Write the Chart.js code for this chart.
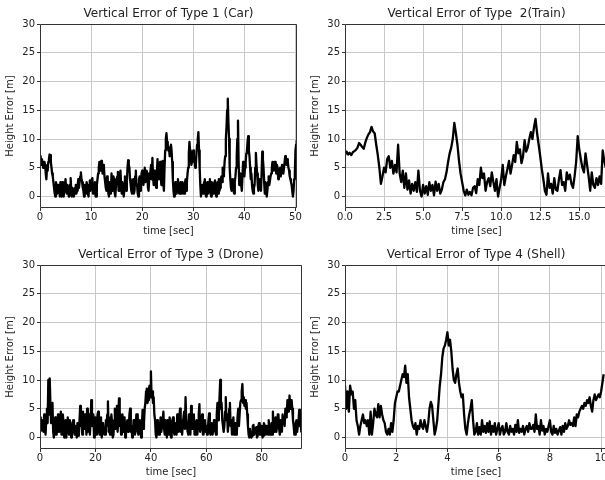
<!DOCTYPE html>
<html>
<head>
<meta charset="utf-8">
<script src="https://cdn.jsdelivr.net/npm/chart.js@4.4.0/dist/chart.umd.min.js"></script>
<style>
  html, body { margin: 0; padding: 0; background: #fff; overflow: hidden; width: 605px; height: 480px; }
  .panel { position: absolute; }
</style>
</head>
<body>
<div class="panel" style="left:0;top:0"><canvas id="car" width="305" height="240"></canvas></div>
<div class="panel" style="left:305px;top:0"><canvas id="train" width="320" height="240"></canvas></div>
<div class="panel" style="left:0;top:241px"><canvas id="drone" width="305" height="240"></canvas></div>
<div class="panel" style="left:305px;top:241px"><canvas id="shell" width="320" height="240"></canvas></div>
<script>
const carStep = 0.125;
const carErr = [
  7, 6, 5.5, 6.5, 6, 5, 5.2, 6,          5.5, 4, 3, 5, 4.5, 6, 6.5, 7.3,
  7.2, 6, 5, 4, 3.5, 2.5, 1.5, 0.5,      0, 2.5, 2, 0.5, 0.5, 2, 1.5, 0,
  2.5, 1, 0, 2.5, 2, 0, 1, 2,            3, 1, 0.5, 2, 1.5, 0, 0, 2,
  3.2, 1, 0, 1.5, 1, 0, 0.5, 1.5,        2, 0.5, 1, 2, 3, 1.5, 2.5, 3.5,
  4.2, 3, 2.5, 1.5, 1, 0, 2, 1,          0.5, 2.5, 2, 0.5, 0, 2, 2.8, 1,
  1.5, 3, 3.2, 0.5, 1, 2, 2.5, 0,        0, 2, 3, 4, 5, 6, 5.5, 4.5,
  6.2, 5, 4, 5.5, 5.2, 3.5, 2.5, 1.5,    1, 3.5, 3, 0.5, 0, 2.5, 2.5, 0.5,
  4, 2, 1, 3.5, 3, 0.5, 0, 2,            2, 3.5, 4.3, 1, 1, 3.5, 4.5, 2,
  0.5, 2.5, 2, 0, 1, 3.5, 3, 1,          2.5, 5, 6.3, 5.5, 5, 3, 2, 1,
  0.5, 2.5, 3, 0.5, 1, 3.5, 4.5, 2,      2, 0.5, 0, 3, 3.5, 1, 1.5, 4,
  4.5, 2.5, 2, 4, 5, 2.5, 3, 4.5,        4, 1.5, 1, 3, 3.5, 4.5, 5.5, 3,
  6.7, 3.5, 2, 4.5, 4, 2, 1.5, 4,        6.5, 4, 3, 5, 6, 3.5, 2, 4.5,
  6.2, 2.5, 1, 5, 8, 10, 11, 9.5,        9, 8, 8.5, 7, 7.5, 9, 8, 6,
  3, 1, 0, 2, 2.5, 0.5, 1, 2.5,          3, 1, 0.5, 2, 2.5, 0.5, 1, 2.5,
  2, 0.5, 0.5, 2.5, 3, 1, 2.5, 4,        5, 7.5, 9.5, 8, 7, 5.5, 6, 7.5,
  8, 7, 6.5, 5, 5.5, 7.5, 9, 10,         11.2, 8, 5, 2, 0, 1.5, 2, 0.5,
  0.5, 2.5, 3, 0.5, 0, 2, 2.5, 0.5,      1, 2.5, 3, 0.5, 0, 2.5, 2, 0.5,
  1, 2.5, 2.8, 0.5, 0, 2, 2.5, 0.5,      3, 1, 1.5, 3, 3.5, 2.5, 5, 3.5,
  4, 6, 7, 10, 12, 15, 17, 13,           10, 5, 3, 1.5, 1, 2.5, 3, 1,
  0.5, 2.5, 3.5, 5, 7, 10, 13.2, 6,      2, 3.5, 4, 2, 1, 3.5, 6, 4,
  3.5, 5, 6, 7.5, 8, 9.5, 10.5, 8,       7, 5, 3, 4, 2, 1, 0.5, 1.5,
  2, 5, 7.6, 5.5, 4, 2, 1, 2.5,          3, 1.5, 1, 4, 7.8, 6.5, 5, 2.5,
  0.5, 2.5, 2, 0, 1, 2.5, 3.5, 2,        2, 3.5, 4, 5, 6, 4.5, 5, 6,
  6, 5, 4, 5.5, 5, 3, 3.5, 4.5,          5, 3.5, 4.5, 5.5, 5.5, 4, 4, 6,
  7, 6, 5.5, 6.5, 6, 5, 4.5, 3.5,        3, 2.5, 2, 1, 0, 1, 3, 4,
  8, 9, 9.8
];

const trainStep = 0.1;
const trainErr = [
  7.2, 7.8, 7.3, 7.6, 7.2, 7.7, 7.9, 8.1, 8.5, 9.3,
  9.0, 8.6, 8.3, 9.4, 10.2, 10.8, 11.2, 12.1, 11.3, 11.0,
  9.0, 7.2, 5.0, 2.2, 3.5, 5.0, 4.2, 6.5, 7.0, 5.0,
  6.2, 4.0, 5.5, 4.2, 9.0, 4.0, 2.5, 4.5, 1.5, 4.0,
  1.2, 2.8, 0.5, 2.2, 1.0, 2.5, 0.8, 4.5, 1.0, 0.0,
  2.0, 0.5, 1.8, 0.3, 2.5, 1.0, 2.0, 0.2, 2.6, 1.0,
  2.2, 0.5, 1.2, 2.5, 3.0, 4.2, 6.0, 7.5, 8.5, 10.0,
  12.8, 11.0, 9.0, 6.2, 4.0, 2.5, 1.0, 0.2, 1.2, 0.3,
  0.8, 0.2, 1.5, 1.8, 0.6, 3.0, 2.0, 5.0, 3.2, 4.0,
  1.0, 2.5, 3.2, 1.8, 4.2, 2.5, 1.0, 3.0, 0.0, 1.5,
  3.0, 5.5, 2.0, 3.5, 4.8, 6.2, 4.0, 5.5, 7.2, 6.0,
  9.5, 7.5, 8.2, 5.8, 7.0, 9.8, 7.8, 8.5, 10.0, 11.2,
  10.0, 12.0, 13.5, 11.0, 9.0, 7.0, 4.8, 3.0, 1.0, 0.3,
  4.0, 1.5, 2.2, 0.5, 3.2, 1.2, 1.0, 3.0, 4.6, 2.0,
  2.5, 1.0, 4.2, 3.0, 3.8, 2.2, 1.5, 3.5, 6.0, 10.5,
  8.2, 6.5, 5.0, 4.2, 7.5, 5.5, 3.5, 1.0, 4.2, 2.0,
  1.5, 3.2, 2.0, 3.5, 2.2, 8.0, 6.2, 5.0
];

const droneStep = 0.25;
const droneErr = [
  2, 3.5, 1.2, 2.5,   3, 1, 4, 2,       0.5, 3, 5, 2.5,     10, 4, 10.3, 6,
  2.5, 5, 6, 1,       0, 3, 3.5, 0.5,   0.5, 2.5, 4, 1,     1, 3, 4.5, 0.5,
  0.5, 4, 2.5, 0,     1, 3, 0, 2,       3.5, 1, 0.5, 3,     2, 0, 1, 2.5,
  3, 1, 0.5, 2,       1.5, 0, 2.5, 1,   0.3, 3, 5.5, 2,     3, 0.5, 4.5, 2,
  1.5, 4, 3, 0.5,     5, 1, 2, 4,       0.5, 3, 6.5, 2,     2, 4, 0, 2.5,
  3.5, 0.5, 1, 4,     4.5, 1, 0.5, 3,   3.5, 0, 1, 2.5,     2.5, 0.5, 0.5, 3,
  2, 4, 6.3, 1,       3.5, 0.5, 1, 4,   2.5, 0, 0.5, 3,     5, 1.5, 3, 5.5,
  1, 4, 6.8, 2,       4, 0.5, 2.5, 4,   1, 3, 3.5, 0,       0.5, 2.5, 3, 1,
  1.5, 4, 5, 1,       2, 0, 0.5, 3,     3, 0.5, 1.5, 4,     4, 1, 0.5, 2.5,
  3, 1, 0, 2,         4.8, 1.5, 2.5, 5, 6, 8, 8.5, 6,       6.5, 8.5, 9, 7,
  11.5, 7, 8, 6,      7, 4, 3, 0.5,     0, 3, 2.5, 0.5,     0.5, 2, 3.5, 1,
  1, 3, 4.5, 1.5,     0.5, 3, 2, 0,     3, 1, 0.5, 3.5,     2.5, 0, 1, 3,
  3.5, 1, 0.5, 2.5,   2.5, 0.5, 4, 1.5, 1, 3.5, 5, 1,       3, 0.5, 0.5, 3.5,
  4.5, 1.5, 7, 3,     3, 1, 0.5, 4,     2.5, 0.5, 5.5, 2,   1.5, 3, 4, 0.5,
  0.5, 2.5, 3, 0.5,   2, 4, 5.8, 1,     1, 3, 4, 0.5,       0.5, 2.5, 3, 1,
  2, 0.5, 1, 3,       4.2, 1, 0.5, 2.5, 2, 0.5, 1.5, 3,     3, 1, 0.5, 4,
  6, 3, 4, 7,         10, 5, 6, 3,      3, 1, 2, 4.5,       7, 3, 4, 1,
  2.5, 5, 6, 2,       3, 0.5, 2, 3.5,   0.5, 2, 2.5, 0.5,   1, 3.5, 5, 2,
  4, 6, 6.5, 8,       9.3, 6, 7, 5.5,   6.5, 5, 6, 4,       2, 0.5, 0, 1.5,
  1.5, 0, 0.3, 2,     2.2, 0.5, 0.5, 1.5, 1.8, 0, 0.3, 2,   2.5, 0.5, 0.5, 2,
  1.5, 0, 0.3, 2.5,   2.2, 0.5, 0.8, 2, 1.5, 0.5, 3, 1,     0.5, 2, 2.5, 0.5,
  4.5, 2, 1, 3,       3.5, 1, 2, 4,     4, 1.5, 0.5, 3,     2.5, 1, 4, 2.5,
  3.5, 2, 5, 3.5,     4, 6.5, 6, 4.5,   7.3, 5, 5.5, 6.5,   5, 3, 2, 0.5,
  0.5, 2.5, 3, 1,     1, 3, 4.8, 2,     3, 1, 4.5
];

const shellStep = 0.05;
const shellErr = [
  9, 5, 8, 4.5, 9, 7.5, 8, 5, 6.5, 3, 2, 0.5, 2, 3, 4, 2.5, 3, 2, 3, 0.5,
  4.5, 0.5, 2.5, 5, 4, 3.5, 5.8, 3.5, 5.5, 4, 3, 2.5, 1, 0.5, 1.5, 0.5, 2.5, 1, 3, 6,
  7, 8, 8, 9, 10, 11, 10.5, 12.5, 9.5, 11, 7, 5, 3, 2, 1.5, 2.5, 0.5, 2, 1.5, 3,
  2, 1.5, 3, 2, 1, 2.5, 5, 6.2, 5.5, 3, 0.5, 1.5, 3, 6, 9, 11, 14, 15.5, 16, 17,
  18.3, 16, 17, 15, 12, 10, 9.5, 11, 12, 9.5, 8, 7, 7.5, 4, 1.5, 0.5, 2.5, 4, 5, 6.5,
  3, 0.5, 1, 2.5, 0.5, 1.8, 0.5, 3, 1, 2, 0.8, 2.5, 1, 2.8, 0.5, 2, 1, 2.5, 0.5, 1.5,
  2.5, 0.5, 1.5, 2, 0.5, 1, 2.5, 1, 0.5, 2, 1, 1.5, 0.5, 2.2, 1, 3, 0.8, 1.5, 1, 2,
  0.5, 1.5, 2, 1, 2.5, 1.5, 1.5, 2.2, 1, 4, 1.5, 2, 0.5, 3, 1.2, 2, 0.5, 1.5, 1, 2,
  3, 1, 0.5, 2, 0.8, 1.5, 0.5, 1.2, 1.8, 0.5, 2, 1, 2.5, 1.5, 2, 3, 2.2, 2.5, 2, 3.5,
  2, 4, 3.5, 4.5, 5, 5.5, 5, 6, 5.5, 6.5, 6, 7, 5.5, 4.5, 6.5, 7.5, 6.5, 7, 7.5, 7,
  8, 9.5, 11
];

const carTicks = [0, 10, 20, 30, 40, 50];
const trainTicks = [0, 2.5, 5, 7.5, 10, 12.5, 15];
const droneTicks = [0, 20, 40, 60, 80];
const shellTicks = [0, 2, 4, 6, 8, 10];
const yTicks = [0, 5, 10, 15, 20, 25, 30];

const FONT = 'DejaVu Sans';
const TEXT = '#222';

// matplotlib style box around the axes
const framePlugin = {
  id: 'frame',
  afterDraw(chart) {
    const { ctx, chartArea: a } = chart;
    const side = chart.options.plugins.frame.sides;
    const l = Math.round(a.left) + 0.5, r = Math.round(a.right) - 0.5;
    const t = Math.round(a.top) + 0.5, b = Math.round(a.bottom) - 0.5;
    ctx.save();
    ctx.strokeStyle = '#333';
    ctx.lineWidth = 1;
    ctx.beginPath();
    ctx.moveTo(r, t); ctx.lineTo(l, t); ctx.lineTo(l, b); ctx.lineTo(r, b);
    if (side === 'all') ctx.closePath();
    ctx.stroke();
    ctx.restore();
  }
};

function makePanel(id, title, values, step, xMax, xTicks, decimals, padRight, sides) {
  const points = values.map((v, i) => ({ x: i * step, y: v }));
  new Chart(document.getElementById(id), {
    type: 'line',
    data: {
      datasets: [{
        data: points,
        borderColor: '#000',
        borderWidth: 2.3,
        borderJoinStyle: 'round',
        pointRadius: 0,
        tension: 0,
        fill: false
      }]
    },
    options: {
      responsive: false,
      animation: false,
      layout: { padding: { left: 0, right: padRight, top: 0, bottom: 0 } },
      plugins: {
        legend: { display: false },
        tooltip: { enabled: false },
        frame: { sides: sides },
        title: {
          display: true,
          text: title,
          fullSize: false,
          color: TEXT,
          font: { family: FONT, size: 12, weight: 'normal' },
          padding: { top: 6.8, bottom: 2.8 }
        }
      },
      scales: {
        x: {
          type: 'linear',
          min: 0,
          max: xMax,
          afterBuildTicks: s => { s.ticks = xTicks.map(v => ({ value: v })); },
          afterFit: s => { s.height = 32; },
          ticks: {
            color: TEXT,
            font: { family: FONT, size: 10 },
            padding: 0,
            maxRotation: 0,
            autoSkip: false,
            callback: v => v.toFixed(decimals)
          },
          grid: { color: '#c8c8c8', lineWidth: 1, tickColor: '#333', tickLength: 3 },
          border: { display: false },
          title: {
            display: true,
            text: 'time [sec]',
            color: TEXT,
            font: { family: FONT, size: 10 },
            padding: { top: 0, bottom: 3 }
          }
        },
        y: {
          min: -2,
          max: 30,
          afterBuildTicks: s => { s.ticks = yTicks.map(v => ({ value: v })); },
          afterFit: s => { s.width = 40; },
          ticks: {
            color: TEXT,
            font: { family: FONT, size: 10 },
            padding: 2
          },
          grid: { color: '#c8c8c8', lineWidth: 1, tickColor: '#333', tickLength: 3 },
          border: { display: false },
          title: {
            display: true,
            text: 'Height Error [m]',
            color: TEXT,
            font: { family: FONT, size: 10 },
            padding: { top: 4.5, bottom: 0 }
          }
        }
      }
    },
    plugins: [framePlugin]
  });
}

makePanel('car', 'Vertical Error of Type 1 (Car)', carErr, carStep, 50.3, carTicks, 0, 8, 'all');
makePanel('train', 'Vertical Error of Type  2(Train)', trainErr, trainStep, 16.84, trainTicks, 1, 17, 'open');
makePanel('drone', 'Vertical Error of Type 3 (Drone)', droneErr, droneStep, 94.5, droneTicks, 0, 3, 'all');
makePanel('shell', 'Vertical Error of Type 4 (Shell)', shellErr, shellStep, 10.23, shellTicks, 0, 18, 'open');
</script>
</body>
</html>
